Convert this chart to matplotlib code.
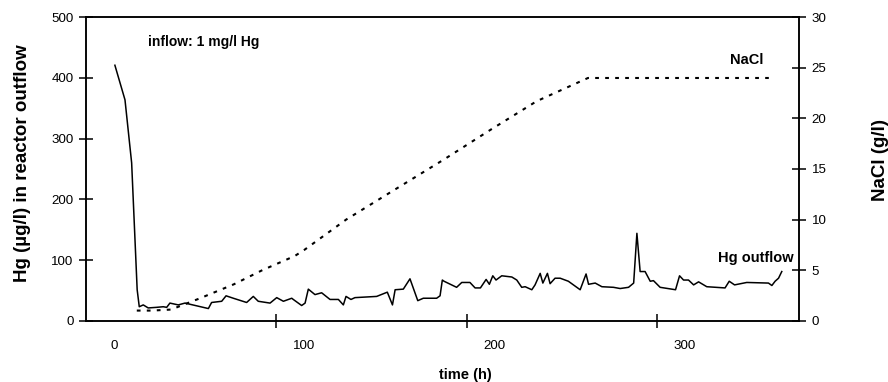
import matplotlib
matplotlib.use("Agg")
import matplotlib.pyplot as plt
from matplotlib.ticker import FixedLocator

plt.rcParams['font.family'] = ['Liberation Sans', 'DejaVu Sans']

# Hg in reactor outflow (ug/l) over time (h)
hg_time = [0.5, 5.8, 9.3, 12.2, 13.3, 15.4, 18, 22.4, 25.9, 27.7, 29.4, 33.8,
           37.3, 49.6, 51.3, 56.6, 58.9, 62.7, 69.7, 73.2, 75.8, 82, 85.5,
           89, 93.4, 94.2, 98.6, 100.4, 102.1, 105.6, 109.1, 113.5, 117.9,
           120.5, 121.9, 124.5, 126.6, 138, 143.6, 146.3, 147.7, 152, 155.5,
           159.6, 162.5, 169.5, 171.3, 172.5, 173.4, 180, 182.7, 187, 189.7,
           192.5, 195.5, 197.2, 199, 200.7, 203.7, 209, 211.6, 214.2, 216,
           219.5, 221.2, 223.9, 225.3, 227.7, 229.1, 231.7, 234.4, 238.7,
           244.9, 248, 249.3, 252.8, 256.3, 262.4, 265.9, 270.3, 273,
           274.7, 276.4, 279, 281.7, 283.4, 286.9, 295, 297.1, 299.2, 301.8,
           304.5, 307.1, 311.4, 321, 323.2, 326, 332.4, 343.8, 345.6, 347.3,
           349.1, 350.8]
hg_value = [421, 364, 260, 51, 23, 26, 21, 22, 23, 22, 29, 26,
            29, 20, 30, 32, 41, 37, 30, 40, 32, 29, 38,
            32, 37, 35, 25, 29, 52, 43, 46, 35, 35,
            26, 40, 35, 38, 40, 47, 26, 51, 52, 69,
            33, 37, 37, 41, 67, 65, 55, 63, 63, 54,
            54, 68, 60, 74, 67, 74, 72, 67, 55, 56,
            51, 59, 78, 62, 78, 61, 70, 70, 65,
            51, 77, 60, 62, 56, 55, 53, 55, 62,
            144, 81, 81, 65, 66, 55, 51, 74, 67, 67,
            59, 64, 56, 54, 65, 59, 63, 62, 58, 65,
            70, 81]

# NaCl concentration (g/l)
nacl_time = [12, 20, 30, 45, 63, 78, 95, 100, 122, 147, 173, 198, 222, 249, 344]
nacl_value = [1.0, 1.0, 1.1, 2.2, 3.6, 5.0, 6.4, 7.0, 10.0, 12.9, 15.9, 18.9,
              21.7, 24.0, 24.0]

x_labels = [0, 100, 200, 300]

fig = plt.figure(figsize=(8.88, 3.82), dpi=100)
ax = fig.add_axes([0.0968, 0.1605, 0.8033, 0.7942])
ax2 = ax.twinx()

ax.plot(hg_time, hg_value, color='black', lw=1.1, zorder=3)
ax2.plot(nacl_time, nacl_value, color='black', lw=1.5,
         linestyle=(0, (1.8, 3.0)))

xmin, xmax = -14.7, 360
ax.set_xlim(xmin, xmax)
ax.set_ylim(0, 500)
ax2.set_ylim(0, 30)

ax.set_xticks(x_labels)
ax.tick_params(axis='x', length=0, pad=14, labelsize=9.6)
ax.xaxis.set_minor_locator(FixedLocator([xmin + 100, xmin + 200, xmin + 300]))
ax.tick_params(axis='x', which='minor', direction='inout', length=10, width=1.1)

ax.set_yticks(range(0, 501, 100))
ax.tick_params(axis='y', direction='inout', length=10, width=1.1,
               labelsize=9.6, pad=4)
ax2.set_yticks(range(0, 31, 5))
ax2.tick_params(axis='y', direction='inout', length=10, width=1.1,
                labelsize=9.6, pad=4)

for a in (ax, ax2):
    for s in a.spines.values():
        s.set_linewidth(1.1)

ax.set_ylabel('Hg (µg/l) in reactor outflow', fontsize=13.5, fontweight='bold',
              ha='center', va='center')
ax.yaxis.set_label_coords(-0.0884, 0.52)
ax2.set_ylabel('NaCl (g/l)', fontsize=13.5, fontweight='bold', rotation=90,
               ha='center', va='center')
ax2.yaxis.set_label_coords(1.1136, 0.53)
ax.set_xlabel('time (h)', fontsize=10.5, fontweight='bold',
              ha='center', va='center')
ax.xaxis.set_label_coords(0.5316, -0.178)

ax.text(0.087, 0.9187, 'inflow: 1 mg/l Hg', transform=ax.transAxes,
        fontsize=10, fontweight='bold', ha='left', va='center')
ax.text(0.9257, 0.859, 'NaCl', transform=ax.transAxes,
        fontsize=10.5, fontweight='bold', ha='center', va='center')
ax.text(0.9397, 0.2074, 'Hg outflow', transform=ax.transAxes,
        fontsize=10.5, fontweight='bold', ha='center', va='center')

fig.savefig('out.png', dpi=100)
